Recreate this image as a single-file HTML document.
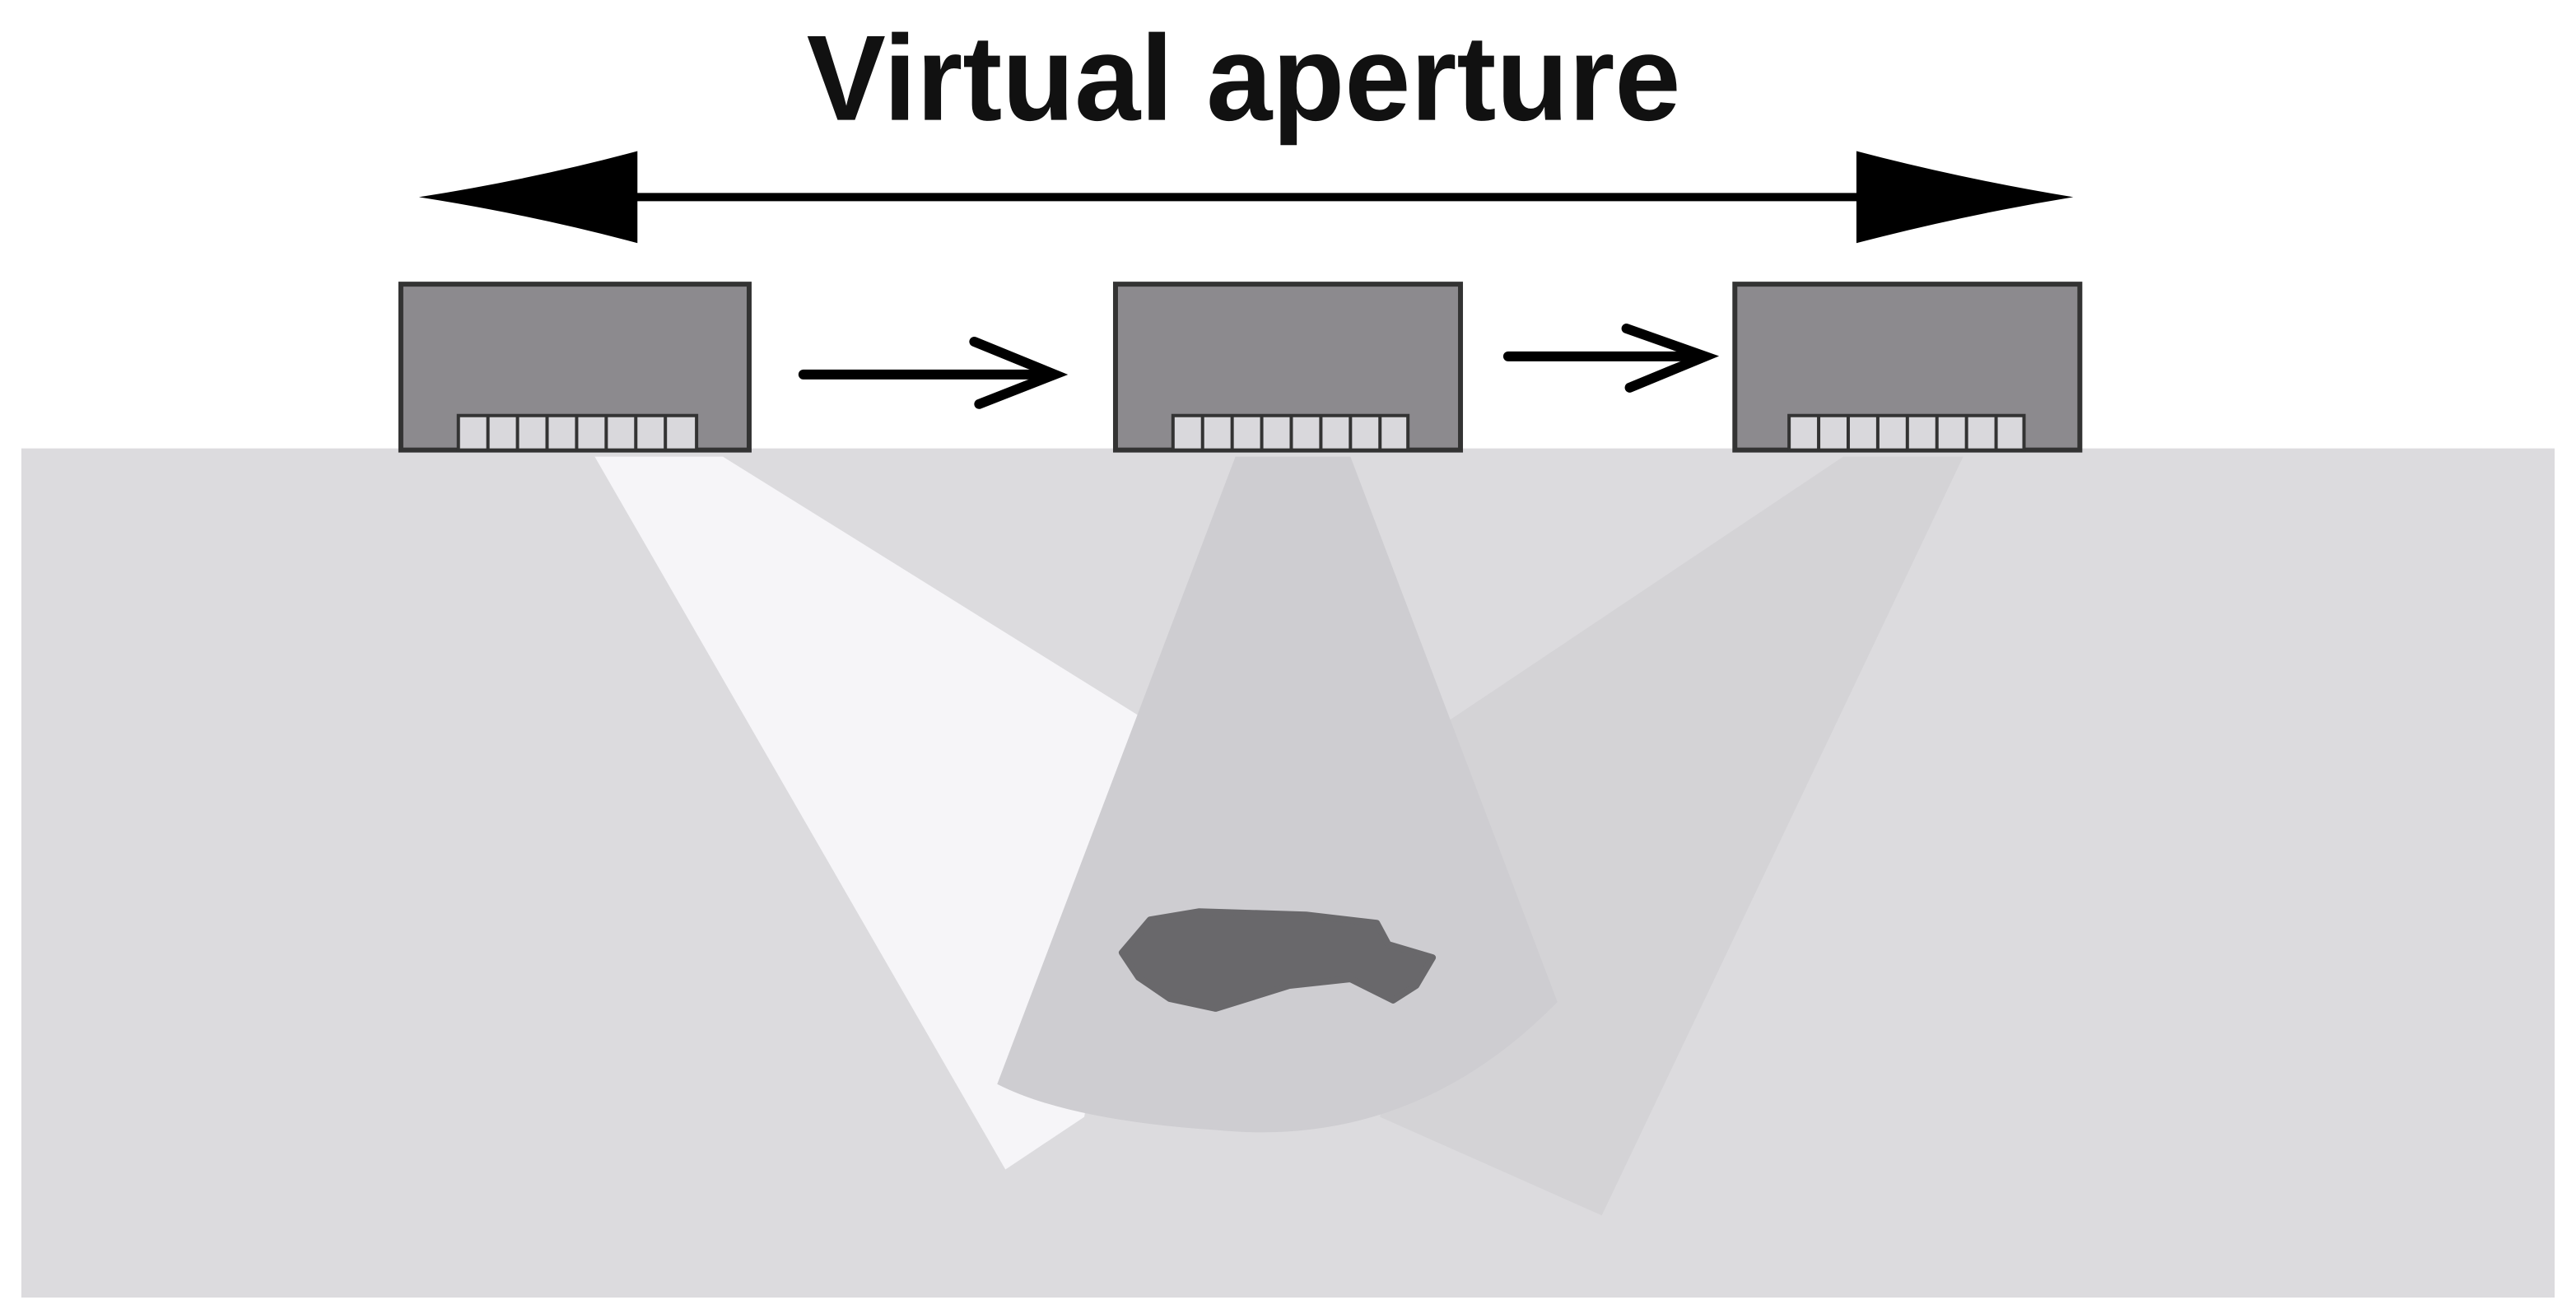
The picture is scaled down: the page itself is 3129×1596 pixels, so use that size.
<!DOCTYPE html>
<html><head><meta charset="utf-8"><style>
html,body{margin:0;padding:0;background:#fff;}
svg{display:block;}
</style></head><body>
<svg width="3129" height="1596" viewBox="0 0 1568 800" preserveAspectRatio="none" xmlns="http://www.w3.org/2000/svg">
<rect x="0" y="0" width="1568" height="800" fill="#ffffff"/>
<text x="757" y="73" text-anchor="middle" font-family="Liberation Sans, sans-serif" font-weight="bold" font-size="74" textLength="532" lengthAdjust="spacingAndGlyphs" fill="#111">Virtual aperture</text>
<!-- big double arrow -->
<line x1="385" y1="120" x2="1135" y2="120" stroke="#000" stroke-width="5"/>
<path d="M255,120 Q325,109 388,92 L388,148 Q325,131 255,120 Z" fill="#000"/>
<path d="M1262,120 Q1195,109 1130,92 L1130,148 Q1195,131 1262,120 Z" fill="#000"/>
<!-- ground -->
<rect x="13" y="273" width="1542" height="517" fill="#dcdbde"/>
<!-- right beam -->
<polygon points="1122,278 1195,278 975,740 840,680 880,440" fill="#d4d3d6"/>
<!-- white beam -->
<polygon points="362,278 440,278 700,440 660,680 612,712" fill="#f6f5f8"/>
<!-- middle beam -->
<path d="M752,278 L822,278 L948,610 Q860,700 740,688 Q650,682 607,660 Z" fill="#cecdd1"/>
<!-- target -->
<path d="M683,580 L700,560 L730,555 L795,557 L838,562 L845,575 L872,583 L862,600 L848,609 L822,596 L785,600 L740,614 L712,608 L693,595 Z" fill="#69686b" stroke="#69686b" stroke-width="4" stroke-linejoin="round"/>
<!-- probes -->
<g stroke="#333" stroke-width="3">
<rect x="244" y="173" width="212" height="101" fill="#8c8a8e"/>
<rect x="679" y="173" width="210" height="101" fill="#8c8a8e"/>
<rect x="1056" y="173" width="210" height="101" fill="#8c8a8e"/>
</g>
<g stroke="#333" stroke-width="2" fill="#d9d8dc">
<rect x="279" y="253" width="145" height="21"/>
<rect x="714" y="253" width="143" height="21"/>
<rect x="1089" y="253" width="143" height="21"/>
</g>
<g stroke="#333" stroke-width="2">
<path d="M297,253V274M315,253V274M333,253V274M351,253V274M369,253V274M387,253V274M405,253V274"/>
<path d="M732,253V274M750,253V274M768,253V274M786,253V274M804,253V274M822,253V274M840,253V274"/>
<path d="M1107,253V274M1125,253V274M1143,253V274M1161,253V274M1179,253V274M1197,253V274M1215,253V274"/>
</g>
<!-- small arrows -->
<g stroke="#000" stroke-width="6" fill="none" stroke-linecap="round">
<line x1="489" y1="228" x2="640" y2="228"/>
<polyline points="593,208 642,228 596,246"/>
<line x1="918" y1="217" x2="1036" y2="217"/>
<polyline points="990,200 1038,217 992,236"/>
</g>
</svg>
</body></html>
